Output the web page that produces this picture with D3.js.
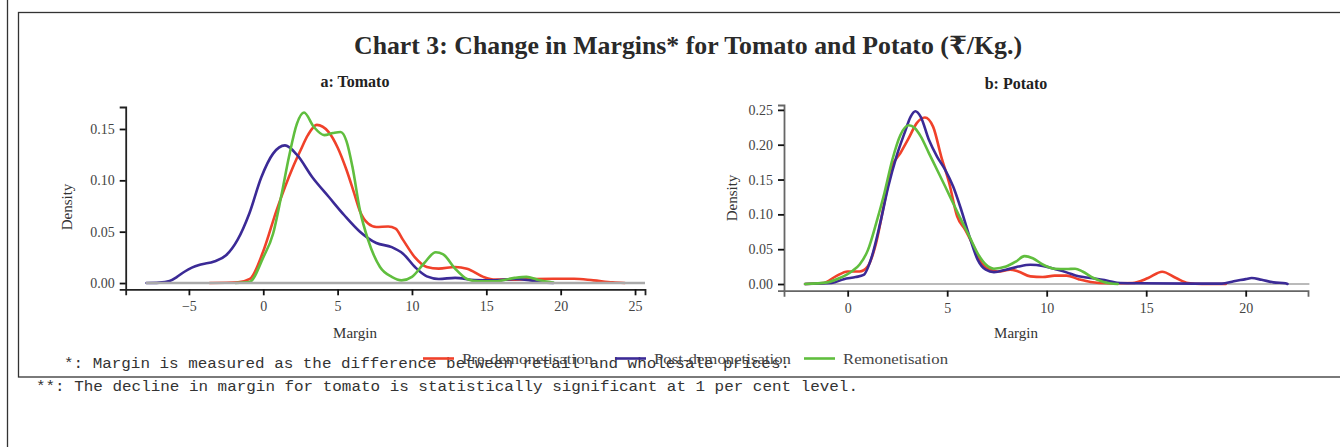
<!DOCTYPE html>
<html><head><meta charset="utf-8">
<script src="https://cdn.jsdelivr.net/npm/d3@7"></script>
<style>body{margin:0;background:#fff;}svg{display:block;}</style>
</head><body>
<svg id="c" width="1340" height="447"></svg>
<script>
// ---------- DATA ----------
const seriesNames = ["Pre-demonetisation", "Post-demonetisation", "Remonetisation"];
const tomatoXTicks = [-5, 0, 5, 10, 15, 20, 25];
const tomatoYTicks = [0, 0.05, 0.10, 0.15];
const potatoXTicks = [0, 5, 10, 15, 20];
const potatoYTicks = [0, 0.05, 0.10, 0.15, 0.20, 0.25];

// Tomato: [margin, density]
const tomatoPre = [[-3.6,0],[-1.7,0.0007],[-0.9,0.004],[0,0.031],[0.9,0.071],[2.0,0.113],[2.5,0.129],[3.0,0.144],[3.6,0.154],[4.4,0.147],[5.0,0.132],[5.6,0.110],[6.1,0.088],[6.5,0.070],[7.05,0.058],[7.6,0.0546],[8.4,0.055],[8.9,0.053],[9.4,0.042],[10.2,0.025],[11.0,0.0156],[11.8,0.014],[12.9,0.0156],[13.7,0.014],[14.8,0.006],[15.6,0.0033],[16.9,0.0033],[18.2,0.004],[19.5,0.0042],[20.9,0.0042],[22.2,0.0026],[23.5,0.0007],[24.3,0]];
const tomatoPost = [[-7.85,0],[-7.0,0.0004],[-6.3,0.002],[-5.8,0.006],[-5.3,0.011],[-4.8,0.015],[-4.2,0.018],[-3.3,0.021],[-2.5,0.027],[-1.73,0.042],[-0.93,0.068],[-0.13,0.103],[0.66,0.126],[1.46,0.134],[2.26,0.125],[3.3,0.103],[4.4,0.084],[5.45,0.066],[6.5,0.050],[7.6,0.039],[8.64,0.035],[9.4,0.0286],[10.2,0.0156],[11.0,0.0065],[11.8,0.004],[12.9,0.005],[14.2,0.003],[15.6,0.0026],[16.9,0.004],[17.95,0.0026],[18.75,0.0007],[19.5,0]];
const tomatoRemon = [[-1.86,0],[-0.93,0.001],[0,0.025],[0.66,0.048],[1.2,0.084],[1.73,0.123],[2.26,0.155],[2.74,0.166],[3.4,0.152],[4.1,0.144],[4.7,0.146],[5.2,0.147],[5.6,0.138],[6.0,0.113],[6.5,0.071],[7.05,0.042],[7.85,0.0156],[8.64,0.006],[9.3,0.0026],[10.0,0.006],[10.8,0.019],[11.6,0.030],[12.1,0.028],[12.9,0.014],[13.7,0.004],[14.5,0.0016],[15.6,0.0016],[16.9,0.005],[17.7,0.006],[18.5,0.003],[19.5,0.0006]];

// Potato: [margin, density]
const potatoPre = [[-2.14,0],[-1.22,0.0014],[-0.6,0.011],[0,0.018],[0.6,0.018],[1.0,0.025],[1.43,0.059],[1.84,0.116],[2.24,0.169],[2.65,0.188],[3.06,0.209],[3.47,0.231],[3.88,0.239],[4.29,0.226],[4.7,0.183],[5.1,0.145],[5.5,0.097],[5.9,0.078],[6.33,0.054],[6.73,0.030],[7.14,0.0205],[7.55,0.018],[8.16,0.0205],[8.57,0.018],[9.18,0.011],[9.8,0.010],[10.4,0.012],[11.0,0.012],[11.6,0.007],[12.2,0.003],[13.06,0.001],[14.3,0.0014],[15.1,0.0086],[15.8,0.0177],[16.5,0.0086],[17.1,0.0014],[17.8,0],[19.0,0]];
const potatoPost = [[-2.14,0],[-0.8,0.0014],[-0.2,0.007],[0.4,0.010],[0.8,0.013],[1.22,0.040],[1.63,0.087],[2.04,0.140],[2.45,0.183],[2.86,0.217],[3.16,0.240],[3.4,0.248],[3.67,0.240],[4.08,0.207],[4.49,0.183],[4.9,0.164],[5.3,0.140],[5.7,0.107],[6.12,0.068],[6.53,0.035],[6.94,0.0205],[7.35,0.017],[7.96,0.0205],[8.57,0.025],[9.18,0.0277],[9.8,0.026],[10.4,0.0215],[11.0,0.0167],[11.6,0.011],[12.2,0.0086],[13.06,0.0048],[13.7,0.0014],[14.7,0.001],[18.8,0.0005],[19.4,0.004],[20.0,0.007],[20.3,0.0086],[20.8,0.006],[21.4,0.0024],[22.0,0.001],[22.1,0]];
const potatoRemon = [[-2.14,0],[-1.02,0.0024],[-0.4,0.0086],[0.2,0.018],[0.6,0.028],[1.02,0.049],[1.43,0.087],[1.84,0.130],[2.24,0.178],[2.65,0.214],[3.06,0.228],[3.37,0.224],[3.67,0.212],[4.08,0.188],[4.49,0.164],[4.9,0.140],[5.3,0.116],[5.7,0.092],[6.12,0.068],[6.53,0.044],[6.94,0.028],[7.35,0.022],[7.96,0.025],[8.47,0.0325],[8.88,0.040],[9.3,0.037],[9.8,0.028],[10.4,0.022],[11.0,0.0215],[11.43,0.022],[11.8,0.018],[12.35,0.0086],[12.86,0.003],[13.57,0]];

const colors = ["#f0412a", "#3b2a96", "#60be3e"];

// ---------- DRAW ----------
const svg = d3.select("#c");
const serif = "'Liberation Serif', 'DejaVu Serif', serif";
const mono = "'Liberation Mono', 'DejaVu Sans Mono', monospace";

// frame
svg.append("line").attr("x1",7.5).attr("x2",7.5).attr("y1",0).attr("y2",447).attr("stroke","#333").attr("stroke-width",1.3);
svg.append("rect").attr("x",18.5).attr("y",12.5).attr("width",1340).attr("height",364.5).attr("fill","none").attr("stroke","#333").attr("stroke-width",1.3);

// title
svg.append("text").attr("x",688).attr("y",54).attr("text-anchor","middle")
  .attr("font-family",serif).attr("font-weight","bold").attr("font-size",25).attr("fill","#2a2a2a")
  .attr("textLength",668).attr("lengthAdjust","spacingAndGlyphs")
  .text("Chart 3: Change in Margins* for Tomato and Potato (₹/Kg.)");

function panel(cfg){
  const x = d3.scaleLinear().domain(cfg.xd).range([cfg.x0, cfg.x1]);
  const y = d3.scaleLinear().domain(cfg.yd).range([cfg.y1, cfg.y0]);
  const g = svg.append("g");
  g.append("text").attr("x",cfg.subX).attr("y",cfg.subY).attr("text-anchor","middle")
    .attr("font-family",serif).attr("font-weight","bold").attr("font-size",16).attr("fill","#222").text(cfg.sub);
  const zeroLine = () => g.append("line").attr("x1",x(cfg.zx[0])).attr("x2",x(cfg.zx[1]))
      .attr("y1",y(0)).attr("y2",y(0)).attr("stroke",cfg.zc).attr("stroke-width",cfg.zw);
  if(!cfg.zeroOnTop) zeroLine();
  const line = d3.line().x(d=>x(d[0])).y(d=>y(d[1])).curve(d3.curveMonotoneX);
  cfg.series.forEach((s,i)=>{
    g.append("path").datum(s).attr("d",line).attr("fill","none")
      .attr("stroke",colors[i]).attr("stroke-width",2.6).attr("stroke-linejoin","round").attr("stroke-linecap","round");
  });
  if(cfg.zeroOnTop) zeroLine();
  const xa = g.append("g").attr("transform",`translate(0,${cfg.y1})`)
    .call(d3.axisBottom(x).tickValues(cfg.xt).tickSize(6).tickPadding(6).tickFormat(d3.format("d")));
  const ya = g.append("g").attr("transform",`translate(${cfg.x0},0)`)
    .call(d3.axisLeft(y).tickValues(cfg.yt).tickSize(6).tickPadding(5).tickFormat(d3.format(".2f")));
  [xa,ya].forEach(a=>{
    a.select(".domain").attr("stroke",cfg.axc).attr("stroke-width",1.8);
    a.selectAll(".tick line").attr("stroke","#111").attr("stroke-width",1.8);
    a.selectAll(".tick text").attr("font-family",serif).attr("font-size",14).attr("fill","#444");
  });
  g.append("text").attr("x",cfg.mX).attr("y",338).attr("text-anchor","middle")
    .attr("font-family",serif).attr("font-size",15).attr("fill","#333").text("Margin");
  g.append("text").attr("transform",`translate(${cfg.dX},${cfg.dY}) rotate(-90)`).attr("text-anchor","middle")
    .attr("dy","0.35em").attr("font-family",serif).attr("font-size",15).attr("fill","#333").text("Density");
}

panel({xd:[-9.25,25.67], yd:[-0.0061,0.1714], x0:125.7, x1:645, y0:107, y1:289.3,
  xt:tomatoXTicks, yt:tomatoYTicks, series:[tomatoPre,tomatoPost,tomatoRemon],
  sub:"a: Tomato", subX:355, subY:87, mX:355, dX:67, dY:207,
  zx:[-7.9,25.67], zc:"#aaa", zw:2.6, zeroOnTop:true, axc:"#222"});
panel({xd:[-3.2,23.13], yd:[-0.0096,0.257], x0:784, x1:1308, y0:105, y1:290.7,
  xt:potatoXTicks, yt:potatoYTicks, series:[potatoPre,potatoPost,potatoRemon],
  sub:"b: Potato", subX:1016, subY:89, mX:1016, dX:732, dY:198,
  zx:[-2.2,23.2], zc:"#777", zw:1.1, zeroOnTop:false, axc:"#666"});

// footnotes
svg.append("text").attr("x",64).attr("y",368).attr("font-family",mono).attr("font-size",14).attr("fill","#333")
  .attr("textLength",726).attr("lengthAdjust","spacingAndGlyphs")
  .text("*: Margin is measured as the difference between retail and wholesale prices.");
svg.append("text").attr("x",36).attr("y",391).attr("font-family",mono).attr("font-size",14).attr("fill","#333")
  .attr("textLength",822).attr("lengthAdjust","spacingAndGlyphs")
  .text("**: The decline in margin for tomato is statistically significant at 1 per cent level.");

// legend (overlaps the first footnote, as in the reference)
const legX = [423, 615, 804];
const legW = [131, 137, 105];
seriesNames.forEach((n,i)=>{
  svg.append("line").attr("x1",legX[i]).attr("x2",legX[i]+31).attr("y1",358.5).attr("y2",358.5)
    .attr("stroke",colors[i]).attr("stroke-width",2.6);
  svg.append("text").attr("x",legX[i]+39).attr("y",364).attr("font-family",serif).attr("font-size",15)
    .attr("fill","#444").attr("textLength",legW[i]).attr("lengthAdjust","spacingAndGlyphs").text(n);
});
</script>
</body></html>
